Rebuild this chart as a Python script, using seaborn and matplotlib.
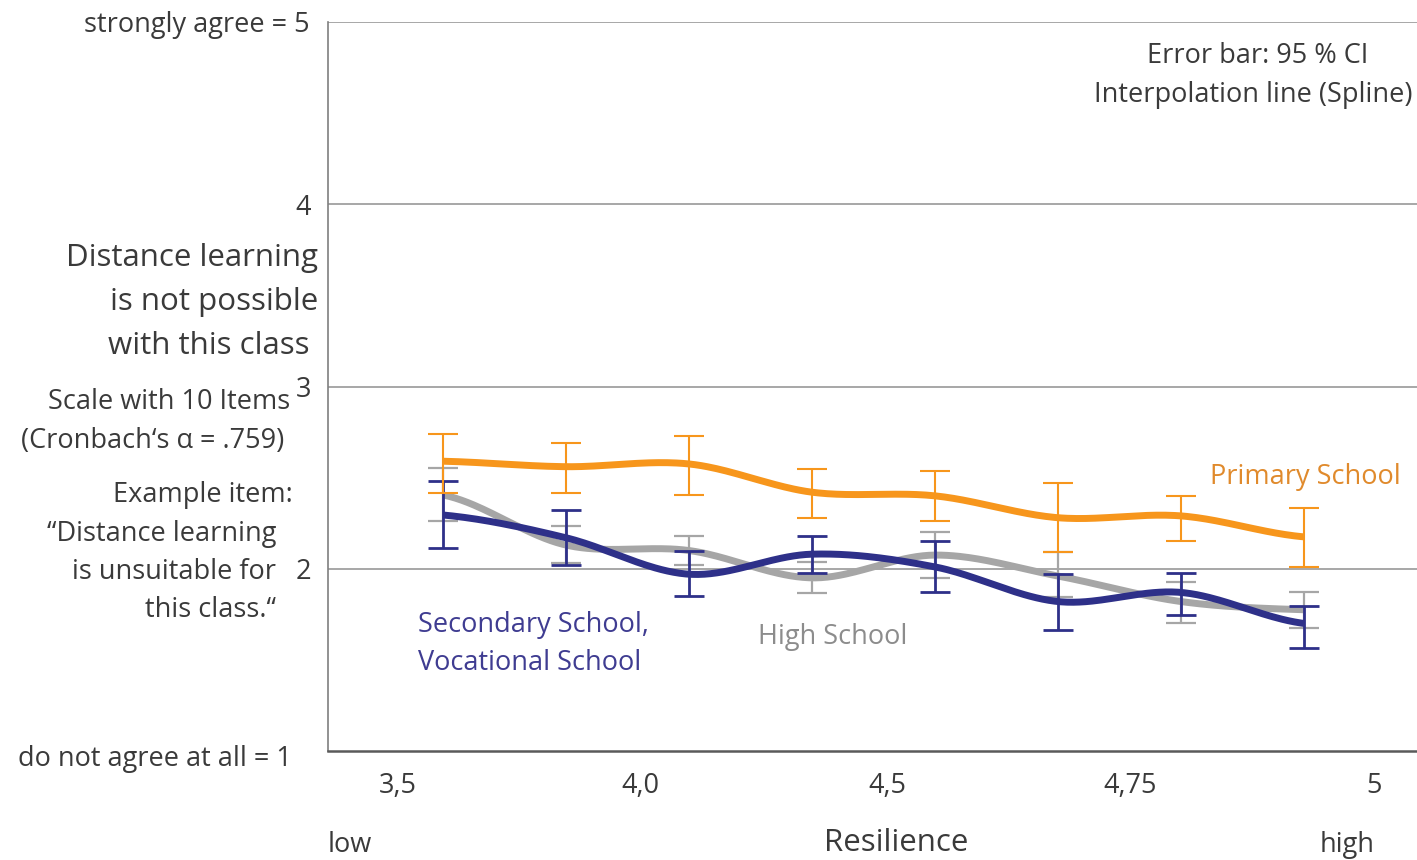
import numpy as np
import pandas as pd
import matplotlib
matplotlib.use("Agg")
import matplotlib.pyplot as plt
import seaborn as sns

# ---------------- data ----------------
group_index = [0, 1, 2, 3, 4, 5, 6, 7]          # resilience groups (low -> high)

primary_mean = [2.59, 2.56, 2.575, 2.42, 2.40, 2.28, 2.29, 2.175]
primary_lo   = [2.415, 2.415, 2.405, 2.28, 2.26, 2.09, 2.155, 2.01]
primary_hi   = [2.74, 2.69, 2.73, 2.55, 2.535, 2.47, 2.40, 2.335]

high_mean = [2.405, 2.13, 2.10, 1.95, 2.075, 1.96, 1.82, 1.775]
high_lo   = [2.26, 2.03, 2.02, 1.865, 1.95, 1.845, 1.70, 1.675]
high_hi   = [2.555, 2.235, 2.18, 2.035, 2.20, 2.09, 1.93, 1.87]

secondary_mean = [2.295, 2.17, 1.97, 2.08, 2.01, 1.82, 1.87, 1.70]
secondary_lo   = [2.115, 2.02, 1.85, 1.975, 1.87, 1.665, 1.745, 1.565]
secondary_hi   = [2.48, 2.32, 2.095, 2.18, 2.155, 1.97, 1.975, 1.795]

x_tick_labels = ["3,5", "4,0", "4,5", "4,75", "5"]
y_tick_values = [1, 2, 3, 4, 5]

# ---------------- style ----------------
ORANGE = "#F7961C"
NAVY = "#2E3089"
GRAY = "#A6A6A6"
TXT = "#3A3A3A"

sns.set_theme(style="white")
plt.rcParams['font.family'] = ['Open Sans', 'DejaVu Sans']

FS = 19.5      # standard text size
FS_BIG = 22.5  # headline on the left
DY = 3         # vertical text nudge (px)

W, H = 1417, 860
fig = plt.figure(figsize=(W / 100, H / 100), dpi=100)

def fx(px):
    return px / W

def fy(py):
    return 1 - (py + DY) / H

ax = fig.add_axes([fx(328), 1 - 751 / H, fx(1417) - fx(328), (751 - 22) / H])

x0_px, step_px = 443.0, 123.0
ax.set_xlim((328 - x0_px) / step_px, (1417 - x0_px) / step_px)
ax.set_ylim(1, 5)


def catmull_rom(x, y, n=40):
    x = np.asarray(x, float)
    y = np.asarray(y, float)
    xs, ys = [], []
    m = len(x)
    for i in range(m - 1):
        p0 = y[i - 1] if i > 0 else y[i]
        p1, p2 = y[i], y[i + 1]
        p3 = y[i + 2] if i + 2 < m else y[i + 1]
        t = np.linspace(0, 1, n, endpoint=(i == m - 2))
        m1 = (p2 - p0) / 2
        m2 = (p3 - p1) / 2
        h00 = 2 * t**3 - 3 * t**2 + 1
        h10 = t**3 - 2 * t**2 + t
        h01 = -2 * t**3 + 3 * t**2
        h11 = t**3 - t**2
        ys.append(h00 * p1 + h10 * m1 + h01 * p2 + h11 * m2)
        xs.append(x[i] + t * (x[i + 1] - x[i]))
    return np.concatenate(xs), np.concatenate(ys)


series = [
    ("High School", high_mean, high_lo, high_hi, GRAY, 1.6),
    ("Secondary", secondary_mean, secondary_lo, secondary_hi, NAVY, 2.0),
    ("Primary", primary_mean, primary_lo, primary_hi, ORANGE, 1.5),
]

z = 3
for name, mean, lo, hi, col, ebw in series:
    mean_a = np.array(mean)
    yerr = [mean_a - np.array(lo), np.array(hi) - mean_a]
    ax.errorbar(group_index, mean, yerr=yerr, fmt='none', ecolor=col,
                elinewidth=ebw, capsize=11, capthick=ebw, zorder=z)
    sx, sy = catmull_rom(group_index, mean)
    df = pd.DataFrame({"x": sx, "y": sy})
    sns.lineplot(data=df, x="x", y="y", color=col, linewidth=5.0,
                 sort=False, estimator=None, ax=ax, zorder=z + 1,
                 solid_capstyle="butt")
    z += 2

# grid & spines
for v in [2, 3, 4, 5]:
    ax.axhline(v, color="#A0A0A0", lw=1.3, zorder=1)
ax.spines['right'].set_visible(False)
ax.spines['top'].set_visible(False)
ax.spines['left'].set_color("#7F7F7F")
ax.spines['left'].set_linewidth(1.2)
ax.spines['bottom'].set_color("#5A5A5A")
ax.spines['bottom'].set_linewidth(1.8)
ax.set_xlabel("")
ax.set_ylabel("")

# ticks
tick_px = [398, 640, 887, 1130, 1374]
ax.set_xticks([(p - x0_px) / step_px for p in tick_px])
ax.set_xticklabels(x_tick_labels, fontsize=FS, color=TXT)
ax.tick_params(axis='x', length=0, pad=15)
ax.set_yticks(y_tick_values)
ax.set_yticklabels(["", "2", "3", "4", ""], fontsize=FS, color=TXT)
ax.tick_params(axis='y', length=0, pad=12)

# y-end labels
fig.text(fx(310), fy(22), "strongly agree = 5", ha="right", va="center",
         fontsize=FS, color=TXT)
fig.text(fx(292), fy(756), "do not agree at all = 1", ha="right", va="center",
         fontsize=FS, color=TXT)

# left description
for txt, y in [("Distance learning", 255), ("is not possible", 299),
               ("with this class ", 343)]:
    fig.text(fx(318), fy(y), txt, ha="right", va="center", fontsize=FS_BIG, color=TXT)
fig.text(fx(290), fy(399), "Scale with 10 Items", ha="right", va="center",
         fontsize=FS, color=TXT)
fig.text(fx(284), fy(438), "(Cronbach‘s α = .759)", ha="right", va="center",
         fontsize=FS, color=TXT)
fig.text(fx(293), fy(492), "Example item:", ha="right", va="center",
         fontsize=FS, color=TXT)
for txt, y in [("“Distance learning", 531), ("is unsuitable for", 569),
               ("this class.“", 607)]:
    fig.text(fx(276), fy(y), txt, ha="right", va="center", fontsize=FS, color=TXT)

# note
fig.text(fx(1258), fy(53), "Error bar: 95 % CI", ha="center", va="center",
         fontsize=FS, color=TXT)
fig.text(fx(1253), fy(92), "Interpolation line (Spline)", ha="center", va="center",
         fontsize=FS, color=TXT)

# series labels
fig.text(fx(1210), fy(474), "Primary School", ha="left", va="center",
         fontsize=FS, color="#E08A2C")
fig.text(fx(418), fy(622), "Secondary School,", ha="left", va="center",
         fontsize=FS, color="#3F3C91")
fig.text(fx(418), fy(660), "Vocational School", ha="left", va="center",
         fontsize=FS, color="#3F3C91")
fig.text(fx(758), fy(634), "High School", ha="left", va="center",
         fontsize=FS, color="#8C8C8C")

# x axis text
fig.text(fx(328), fy(842), "low", ha="left", va="center", fontsize=FS, color=TXT)
fig.text(fx(1347), fy(842), "high", ha="center", va="center", fontsize=FS, color=TXT)
fig.text(fx(896), fy(840), "Resilience", ha="center", va="center", fontsize=22.5, color=TXT)

fig.savefig("out.png", dpi=100, facecolor="white")
